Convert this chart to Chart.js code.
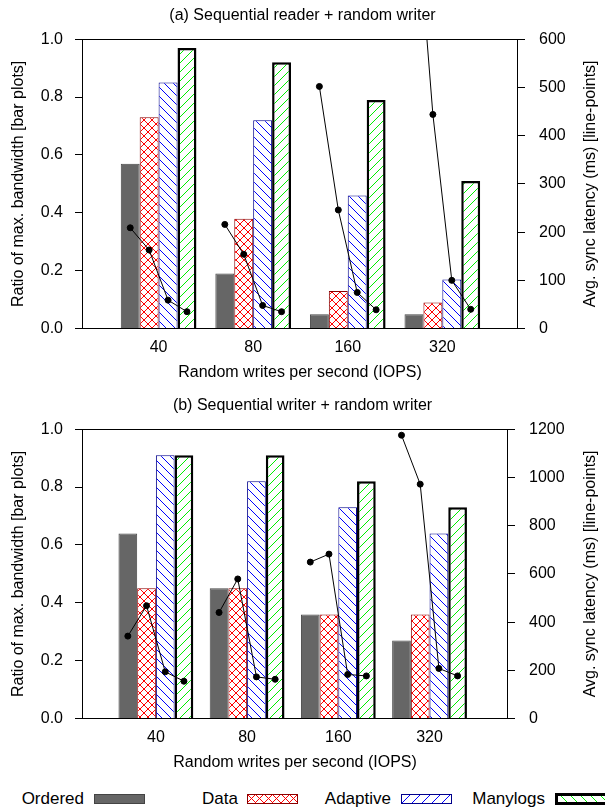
<!DOCTYPE html>
<html>
<head>
<meta charset="utf-8">
<script src="https://cdn.jsdelivr.net/npm/chart.js@4.4.1/dist/chart.umd.min.js"></script>
<style>
  html, body { margin: 0; padding: 0; background: #fff; }
  body { width: 605px; height: 807px; position: relative; overflow: hidden;
         font-family: "Liberation Sans", Arial, sans-serif; color: #000; }
  canvas { position: absolute; left: 0; }
  #chartA { top: 0; }
  #chartB { top: 385px; }
  .lg-text { position: absolute; top: 789px; font-size: 17px; line-height: 20px; text-align: right; width: 100px; }
  .lg-box { position: absolute; top: 794px; width: 49px; height: 8px; box-sizing: content-box; }
</style>
</head>
<body>
<canvas id="chartA" width="605" height="385"></canvas>
<canvas id="chartB" width="605" height="390"></canvas>

<div class="lg-text" style="left:-16px">Ordered</div>
<div class="lg-box" style="left:94px;background:#666;border:1px solid #444"></div>
<div class="lg-text" style="left:138px">Data</div>
<div class="lg-box" style="left:247px;border:1px solid #8b0000;background:
  repeating-linear-gradient(45deg, transparent 0 5px, #f00 5px 6px),
  repeating-linear-gradient(-45deg, transparent 0 5px, #f00 5px 6px), #fff"></div>
<div class="lg-text" style="left:291px">Adaptive</div>
<div class="lg-box" style="left:401px;border:1px solid #00008b;background:
  repeating-linear-gradient(-45deg, transparent 0 6px, #00f 6px 7px), #fff"></div>
<div class="lg-text" style="left:445px">Manylogs</div>
<div class="lg-box" style="left:555px;top:793px;height:6px;border:3px solid #000;background:
  repeating-linear-gradient(45deg, transparent 0 6px, #0f0 6px 7px), #fff"></div>

<script>
const CATEGORIES = ['40', '80', '160', '320'];
const SERIES = ['Ordered', 'Data', 'Adaptive', 'Manylogs'];

// (a) sequential reader + random writer: ratio of max. bandwidth
const READ_ORDERED = [0.57, 0.19, 0.05, 0.05];
const READ_DATA = [0.73, 0.38, 0.13, 0.09];
const READ_ADAPTIVE = [0.85, 0.72, 0.46, 0.17];
const READ_MANYLOGS = [0.97, 0.92, 0.79, 0.51];
// avg sync latency (ms), one row per IOPS group: Ordered, Data, Adaptive, Manylogs
const READ_LATENCY = [
  [209, 163, 59, 35],
  [216, 154, 48, 35],
  [502, 246, 75, 39],
  [940, 444, 100, 40]
];

// (b) sequential writer + random writer
const WRITE_ORDERED = [0.64, 0.45, 0.36, 0.27];
const WRITE_DATA = [0.45, 0.45, 0.36, 0.36];
const WRITE_ADAPTIVE = [0.91, 0.82, 0.73, 0.64];
const WRITE_MANYLOGS = [0.91, 0.91, 0.82, 0.73];
const WRITE_LATENCY = [
  [342, 468, 194, 155],
  [440, 579, 173, 163],
  [649, 682, 183, 177],
  [1175, 972, 208, 177]
];

const FONT = '"Liberation Sans", Arial, sans-serif';

function hatch(color, dirs, size) {
  const c = document.createElement('canvas');
  c.width = c.height = size;
  const x = c.getContext('2d');
  x.fillStyle = '#fff';
  x.fillRect(0, 0, size, size);
  x.strokeStyle = color;
  x.lineWidth = 1;
  x.beginPath();
  if (dirs.includes('/')) {
    x.moveTo(-1, size + 1); x.lineTo(size + 1, -1);
  }
  if (dirs.includes('\\')) {
    x.moveTo(-1, -1); x.lineTo(size + 1, size + 1);
  }
  x.stroke();
  return x.createPattern(c, 'repeat');
}

const STYLES = [
  { backgroundColor: '#666666', borderColor: '#474747', borderWidth: 1 },
  { backgroundColor: hatch('#ff0000', '/\\', 8), borderColor: '#8b0000', borderWidth: 1 },
  { backgroundColor: hatch('#0000ff', '\\', 9), borderColor: '#00008b', borderWidth: 1 },
  { backgroundColor: hatch('#00ee00', '/', 9), borderColor: '#000000', borderWidth: 2.5 }
];

const framePlugin = {
  id: 'frame',
  afterDatasetsDraw(chart) {
    const a = chart.chartArea, ctx = chart.ctx;
    ctx.save();
    ctx.strokeStyle = '#000';
    ctx.lineWidth = 1;
    ctx.strokeRect(Math.round(a.left) + 0.5, Math.round(a.top) + 0.5,
      Math.round(a.right - a.left) - 1, Math.round(a.bottom - a.top));
    ctx.restore();
  }
};

const rightTitlePlugin = {
  id: 'rightTitle',
  afterDraw(chart, args, opts) {
    const a = chart.chartArea, ctx = chart.ctx;
    ctx.save();
    ctx.translate(opts.x, (a.top + a.bottom) / 2);
    ctx.rotate(-Math.PI / 2);
    ctx.font = '16px ' + FONT;
    ctx.fillStyle = '#000';
    ctx.textAlign = 'center';
    ctx.textBaseline = 'middle';
    ctx.fillText(opts.text, 0, 0);
    ctx.restore();
  }
};

function makeChart(id, o) {
  const slot = o.catPct / SERIES.length;
  const barSets = o.bars.map((vals, k) => Object.assign({
    type: 'bar',
    label: SERIES[k],
    data: vals.map((v, g) => ({ x: g, y: v })),
    yAxisID: 'y',
    order: 1,
    categoryPercentage: o.catPct,
    barPercentage: 1.0
  }, STYLES[k]));

  const linePts = [];
  o.latency.forEach((row, g) => {
    row.forEach((v, k) => linePts.push({ x: g + (k - 1.5) * slot, y: v }));
    linePts.push({ x: g + 0.5, y: null });
  });

  const lineSet = {
    type: 'line',
    label: 'latency',
    data: linePts,
    yAxisID: 'y2',
    order: 0,
    borderColor: '#000',
    borderWidth: 1,
    backgroundColor: '#000',
    pointRadius: 3,
    pointBorderWidth: 1,
    spanGaps: false
  };

  return new Chart(document.getElementById(id), {
    type: 'bar',
    data: { datasets: barSets.concat([lineSet]) },
    options: {
      responsive: false,
      animation: false,
      layout: { padding: 0 },
      plugins: {
        legend: { display: false },
        tooltip: { enabled: false },
        title: {
          display: true,
          text: o.title,
          color: '#000',
          font: { family: FONT, size: 16, weight: 'normal' },
          padding: o.titlePad
        },
        rightTitle: { text: 'Avg. sync latency (ms) [line-points]', x: 591 }
      },
      scales: {
        x: {
          type: 'linear',
          offset: false,
          min: -0.81,
          max: o.xMax,
          afterBuildTicks: s => { s.ticks = CATEGORIES.map((c, i) => ({ value: i })); },
          grid: { display: false, drawTicks: false, offset: false },
          border: { display: false },
          ticks: {
            callback: v => CATEGORIES[v],
            color: '#000',
            font: { family: FONT, size: 16 },
            padding: 9,
            maxRotation: 0,
            autoSkip: false
          },
          title: {
            display: true,
            text: 'Random writes per second (IOPS)',
            color: '#000',
            font: { family: FONT, size: 16 },
            padding: { top: -3, bottom: 3 }
          }
        },
        y: {
          position: 'left',
          min: 0,
          max: 1,
          afterFit: s => { s.width = 82; },
          grid: { drawOnChartArea: false, color: '#000', tickLength: 7 },
          border: { display: false },
          ticks: {
            stepSize: 0.2,
            callback: v => v.toFixed(1),
            color: '#000',
            font: { family: FONT, size: 16 },
            padding: 12
          },
          title: {
            display: true,
            text: 'Ratio of max. bandwidth [bar plots]',
            color: '#000',
            font: { family: FONT, size: 16 },
            padding: { top: 9, bottom: 0 }
          }
        },
        y2: {
          position: 'right',
          min: 0,
          max: o.y2Max,
          afterFit: s => { s.width = o.rightWidth; },
          grid: { drawOnChartArea: false, color: '#000', tickLength: 7 },
          border: { display: false },
          ticks: {
            stepSize: o.y2Step,
            callback: v => String(v),
            color: '#000',
            font: { family: FONT, size: 16 },
            padding: 14
          }
        }
      }
    },
    plugins: [framePlugin, rightTitlePlugin]
  });
}

makeChart('chartA', {
  title: '(a) Sequential reader + random writer',
  bars: [READ_ORDERED, READ_DATA, READ_ADAPTIVE, READ_MANYLOGS],
  latency: READ_LATENCY,
  y2Max: 600,
  y2Step: 100,
  catPct: 0.8,
  xMax: 3.8,
  rightWidth: 87,
  titlePad: { top: 6, bottom: 14 }
});

makeChart('chartB', {
  title: '(b) Sequential writer + random writer',
  bars: [WRITE_ORDERED, WRITE_DATA, WRITE_ADAPTIVE, WRITE_MANYLOGS],
  latency: WRITE_LATENCY,
  y2Max: 1200,
  y2Step: 200,
  catPct: 0.82,
  xMax: 3.86,
  rightWidth: 97,
  titlePad: { top: 11, bottom: 14 }
});
</script>
</body>
</html>
